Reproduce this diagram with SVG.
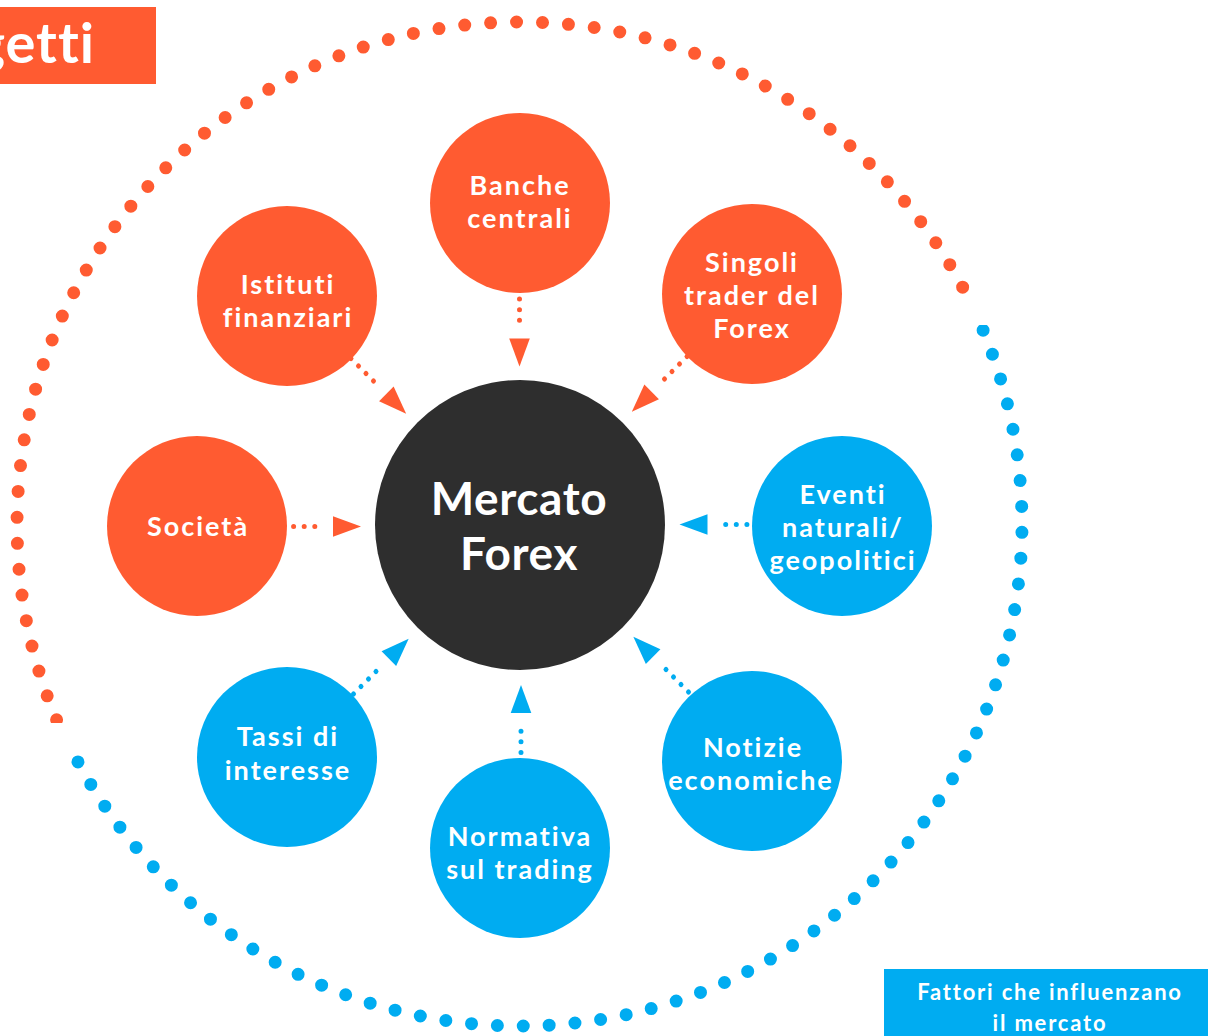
<svg xmlns="http://www.w3.org/2000/svg" xmlns:xlink="http://www.w3.org/1999/xlink" width="1208" height="1036" viewBox="0 0 1208 1036">
<defs>
<style>
.org{fill:#FF5B31}
.blu{fill:#00ACF1}
.lbl{font-family:Lato,"Open Sans","Liberation Sans",sans-serif;font-weight:700;fill:#fff;text-anchor:middle;font-variant-ligatures:none;font-feature-settings:"liga" 0}
.big{font-size:46px;letter-spacing:0.6px}
.n{font-size:27px;letter-spacing:2px}
.ring{fill:none;stroke-width:13;stroke-linecap:round;stroke-dasharray:0 1}
.ao{color:#FF5B31}
.ab{color:#00ACF1}
</style>
<g id="arrow">
<line x1="0" y1="0" x2="42.4" y2="0" stroke="currentColor" stroke-width="5" stroke-linecap="round" stroke-dasharray="0 10.6"/>
<polygon points="50,-10.3 78,0 50,10.3" fill="currentColor"/>
</g>
<clipPath id="clipO"><path d="M0,0H1208V1036H0Z M0,723H200V1036H0Z" clip-rule="evenodd"/></clipPath>
<clipPath id="clipB"><path d="M0,0H1208V1036H0Z M900,0H1208V325H900Z" clip-rule="evenodd"/></clipPath>
</defs>
<rect width="1208" height="1036" fill="#fff"/>

<g id="ring">
<path class="ring" stroke="#FF5B31" clip-path="url(#clipO)" pathLength="59.05" d="M56.6,719.8 A502,502 0 0 1 304.26,70.72 A502,502 0 0 1 963.24,288.33"/>
<path class="ring" stroke="#00ACF1" clip-path="url(#clipB)" pathLength="59.05" d="M983.11,330.27 A502,502 0 0 1 735.52,977.39 A502,502 0 0 1 77.36,760.8"/>
</g>

<g id="title">
<rect x="0" y="7" width="156" height="77" class="org"/>
<text x="95" y="63" class="lbl" style="font-size:56px;letter-spacing:1px;text-anchor:end">getti</text>
</g>

<g id="connectors">
<use xlink:href="#arrow" class="ao" transform="translate(519.5,288.5) rotate(90)"/>
<use xlink:href="#arrow" class="ao" transform="translate(351,358.5) rotate(45)"/>
<use xlink:href="#arrow" class="ao" transform="translate(687,356.5) rotate(135)"/>
<use xlink:href="#arrow" class="ao" transform="translate(283,526.5)"/>
<use xlink:href="#arrow" class="ab" transform="translate(757.5,524.5) rotate(180)"/>
<use xlink:href="#arrow" class="ab" transform="translate(353.5,694) rotate(-45)"/>
<use xlink:href="#arrow" class="ab" transform="translate(521,763) rotate(-90)"/>
<use xlink:href="#arrow" class="ab" transform="translate(688.5,692) rotate(-135)"/>
</g>

<g id="center">
<circle cx="520" cy="525" r="145" fill="#2E2E2E"/>
<text class="lbl big" x="519" y="515">Mercato</text>
<text class="lbl big" x="519" y="570">Forex</text>
</g>

<g id="banche">
<circle cx="520" cy="203" r="90" class="org"/>
<text class="lbl n" x="520" y="195">Banche</text>
<text class="lbl n" x="520" y="228">centrali</text>
</g>
<g id="istituti">
<circle cx="287" cy="296" r="90" class="org"/>
<text class="lbl n" x="288" y="294">Istituti</text>
<text class="lbl n" x="288" y="327">finanziari</text>
</g>
<g id="singoli">
<circle cx="752" cy="294" r="90" class="org"/>
<text class="lbl n" x="752" y="272">Singoli</text>
<text class="lbl n" x="752" y="305">trader del</text>
<text class="lbl n" x="752" y="338">Forex</text>
</g>
<g id="societa">
<circle cx="197" cy="526" r="90" class="org"/>
<text class="lbl n" x="198" y="536">Società</text>
</g>
<g id="eventi">
<circle cx="842" cy="526" r="90" class="blu"/>
<text class="lbl n" x="843" y="504">Eventi</text>
<text class="lbl n" x="843" y="537">naturali/</text>
<text class="lbl n" x="843" y="570">geopolitici</text>
</g>
<g id="tassi">
<circle cx="287" cy="757" r="90" class="blu"/>
<text class="lbl n" x="288" y="746">Tassi di</text>
<text class="lbl n" x="288" y="780">interesse</text>
</g>
<g id="normativa">
<circle cx="520" cy="848" r="90" class="blu"/>
<text class="lbl n" x="520" y="846">Normativa</text>
<text class="lbl n" x="520" y="879">sul trading</text>
</g>
<g id="notizie">
<circle cx="752" cy="761" r="90" class="blu"/>
<text class="lbl n" x="753" y="757">Notizie</text>
<text class="lbl n" x="751" y="790">economiche</text>
</g>

<g id="legend">
<rect x="884" y="969" width="324" height="67" class="blu"/>
<text class="lbl" x="1050" y="1000" style="font-size:22px;letter-spacing:1.8px">Fattori che influenzano</text>
<text class="lbl" x="1050" y="1031" style="font-size:22px;letter-spacing:1.8px">il mercato</text>
</g>
</svg>
